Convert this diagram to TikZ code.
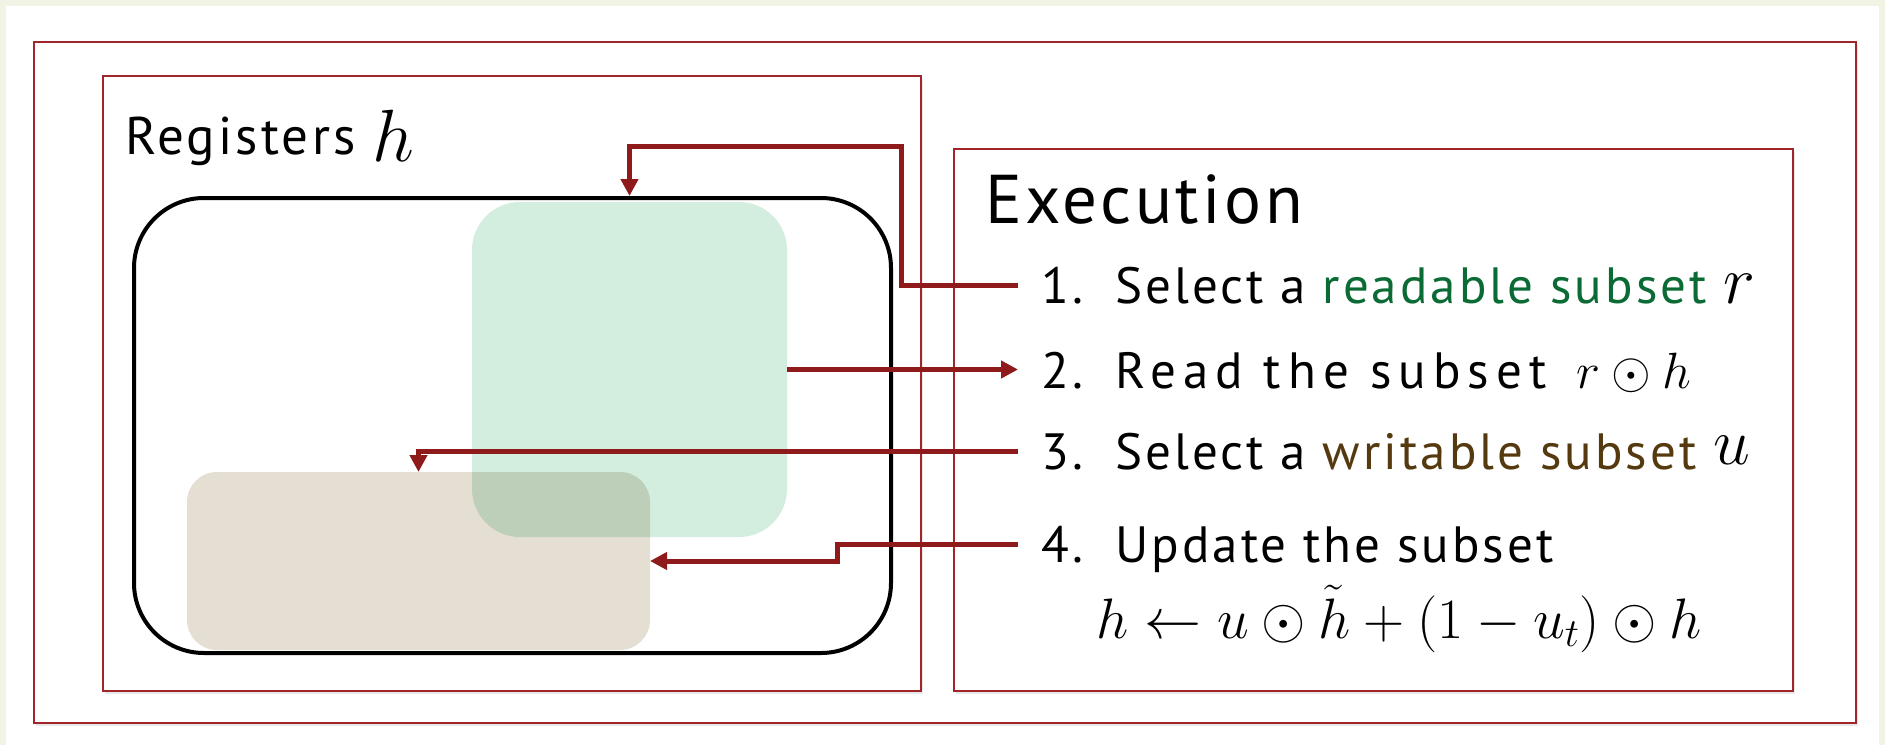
\RequirePackage{fix-cm}
\documentclass[tikz,border=0pt]{standalone}
\usepackage{fontspec}
\setmainfont{PT Sans}[LetterSpace=6]
\usetikzlibrary{arrows.meta,shadows}
\definecolor{framered}{HTML}{A0262A}
\definecolor{flowred}{HTML}{8E1A1C}
\definecolor{mint}{HTML}{D3EEDF}
\definecolor{sand}{HTML}{E5DED3}
\definecolor{readgreen}{HTML}{0B6B35}
\definecolor{writebrown}{HTML}{553A0F}
\definecolor{pageedge}{HTML}{F1F4E4}

\begin{document}
\begin{tikzpicture}[x=1pt, y=-1pt,
    frame/.style={draw=framered, line width=2.5pt, fill=white,
      drop shadow={shadow xshift=2pt, shadow yshift=-3pt, opacity=0.18}},
    regbox/.style={draw=black, line width=4pt, rounded corners=70pt, inner sep=0pt},
    subset/.style={rounded corners=#1, inner sep=0pt, outer sep=0pt},
    flow/.style={draw=flowred, line width=5pt, -{Triangle[length=17pt, width=17pt]}},
    num/.style={anchor=base west, inner sep=0pt, font=\fontsize{51}{60}\selectfont},
    item/.style={anchor=base west, inner sep=0pt, font=\fontsize{51}{60}\selectfont},
  ]
  \useasboundingbox (0,0) rectangle (1885,745);
  \fill[pageedge] (0,0) rectangle (1885,745);
  \fill[white] (6,6) rectangle (1879,745);

  % ---- frames
  \draw[frame] (34,42) rectangle (1856,723);
  \draw[frame] (103,76) rectangle (921,691);
  \draw[frame] (954,149) rectangle (1793,691);

  % ---- registers and the two subsets
  \node[regbox, minimum width=757, minimum height=455] (regs) at (512.5,425.5) {};
  \node[subset=48pt, fill=mint, minimum width=315, minimum height=335] (rset) at (629.5,369.5) {};
  \begin{scope}[blend mode=multiply]
    \node[subset=30pt, fill=sand, minimum width=463, minimum height=178] (wset) at (418.5,561) {};
  \end{scope}
  \node[anchor=base west, inner sep=0pt, font=\fontsize{53}{60}\selectfont] (reglbl) at (125,154)
    {Registers \raisebox{-7pt}{\fontsize{74}{80}\selectfont$h$}};

  % ---- execution steps
  \node[anchor=base west, inner sep=0pt, font=\fontsize{69}{80}\selectfont] (exec) at (985,223)
    {\addfontfeatures{LetterSpace=5}Execution};
  \node[num] (n1) at (1041,303) {1.};
  \node[num] (n2) at (1041,388) {2.};
  \node[num] (n3) at (1041,469) {3.};
  \node[num] (n4) at (1041,562) {4.};
  \node[item] (t1) at (1115,303)
    {Select a \textcolor{readgreen}{readable subset} {\fontsize{68}{70}\selectfont$r$}};
  \node[item] (t2) at (1115,388) {\addfontfeatures{LetterSpace=14}Read the subset \,$r\odot h$};
  \node[item] (t3) at (1115,469)
    {Select a \textcolor{writebrown}{writable subset} \raisebox{5pt}{\fontsize{66}{70}\selectfont$u$}};
  \node[item] (t4) at (1115,562) {Update the subset};
  \node[anchor=base, inner sep=0pt, font=\fontsize{57}{60}\selectfont] (rule) at (1399,638)
    {$h \leftarrow u \odot \tilde{h} + (1-u_t) \odot h$};

  % ---- connectors
  \draw[flow, shorten <=23pt] (n1.west) -| (901,146.5) -| (regs.north -| rset.north);
  \draw[flow, shorten >=23pt] (rset.east) -- (rset.east -| n2.west);
  \draw[flow, shorten <=23pt] (n3.west) -| (wset.north);
  \draw[flow, shorten <=23pt] (n4.west) -- ++(-204,0) |- (wset.east);
\end{tikzpicture}
\end{document}
